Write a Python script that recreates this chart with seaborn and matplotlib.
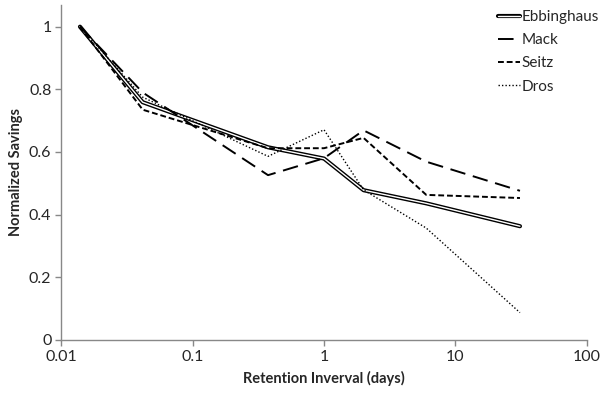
import numpy as np
import pandas as pd
import matplotlib
matplotlib.use('Agg')
import matplotlib.pyplot as plt
import seaborn as sns
from matplotlib.legend_handler import HandlerTuple

# retention intervals in days (20 min, 1 h, 9 h, 1 d, 2 d, 6 d, 31 d)
days = [0.0139, 0.0417, 0.375, 1, 2, 6, 31]
ebbinghaus = [1.0, 0.759, 0.615, 0.579, 0.478, 0.436, 0.363]
mack = [1.0, 0.79, 0.526, 0.58, 0.669, 0.569, 0.476]
seitz = [1.0, 0.735, 0.612, 0.612, 0.645, 0.463, 0.453]
dros = [1.0, 0.775, 0.586, 0.671, 0.479, 0.357, 0.087]

df = pd.DataFrame({'days': days, 'Ebbinghaus': ebbinghaus, 'Mack': mack,
                   'Seitz': seitz, 'Dros': dros})

sns.set_style('white')
plt.rcParams['font.family'] = ['Lato', 'DejaVu Sans']

fig = plt.figure(figsize=(6, 3.98), dpi=100)
ax = fig.add_axes([0.102, 0.146, 0.876, 0.842])

# double line for Ebbinghaus: black outline with a thin white core
sns.lineplot(data=df, x='days', y='Ebbinghaus', ax=ax, color='black', lw=3.0)
sns.lineplot(data=df, x='days', y='Ebbinghaus', ax=ax, color='white', lw=1.0)
sns.lineplot(data=df, x='days', y='Mack', ax=ax, color='black', lw=1.4,
             linestyle=(0, (8, 4)))
sns.lineplot(data=df, x='days', y='Seitz', ax=ax, color='black', lw=1.4,
             linestyle=(0, (3, 1.5)))
sns.lineplot(data=df, x='days', y='Dros', ax=ax, color='black', lw=1.0,
             linestyle=(0, (1, 1.5)))

ax.set_xscale('log')
ax.set_xlim(0.01, 100)
ax.set_ylim(0, 1.07)
ax.set_xticks([0.01, 0.1, 1, 10, 100])
ax.set_xticklabels(['0.01', '0.1', '1', '10', '100'])
ax.minorticks_off()
ax.set_yticks([0, 0.2, 0.4, 0.6, 0.8, 1])
ax.set_yticklabels(['0', '0.2', '0.4', '0.6', '0.8', '1'])
ax.tick_params(axis='both', which='major', labelsize=11.5, length=4, width=1,
               color='#888888', direction='out', bottom=True, left=True, pad=3)
ax.set_xlabel('Retention Inverval (days)', fontsize=10.5, fontweight='bold',
              labelpad=5)
ax.set_ylabel('Normalized Savings', fontsize=10.5, fontweight='bold')

for s in ['top', 'right']:
    ax.spines[s].set_visible(False)
for s in ['left', 'bottom']:
    ax.spines[s].set_color('#888888')
    ax.spines[s].set_linewidth(1)

ebb_a, = ax.plot([], [], color='black', lw=3.0)
ebb_b, = ax.plot([], [], color='white', lw=1.0)
mack_h, = ax.plot([], [], color='black', lw=1.4, linestyle=(0, (8, 4)))
seitz_h, = ax.plot([], [], color='black', lw=1.4, linestyle=(0, (3, 1.5)))
dros_h, = ax.plot([], [], color='black', lw=1.0, linestyle=(0, (1, 1.5)))
ax.legend([(ebb_a, ebb_b), mack_h, seitz_h, dros_h],
          ['Ebbinghaus', 'Mack', 'Seitz', 'Dros'],
          handler_map={tuple: HandlerTuple(ndivide=1)},
          loc='upper right', bbox_to_anchor=(1.05, 1.025), frameon=False,
          fontsize=11, handlelength=1.4, handletextpad=0.15, labelspacing=0.6)

fig.savefig('out.png', dpi=100)
